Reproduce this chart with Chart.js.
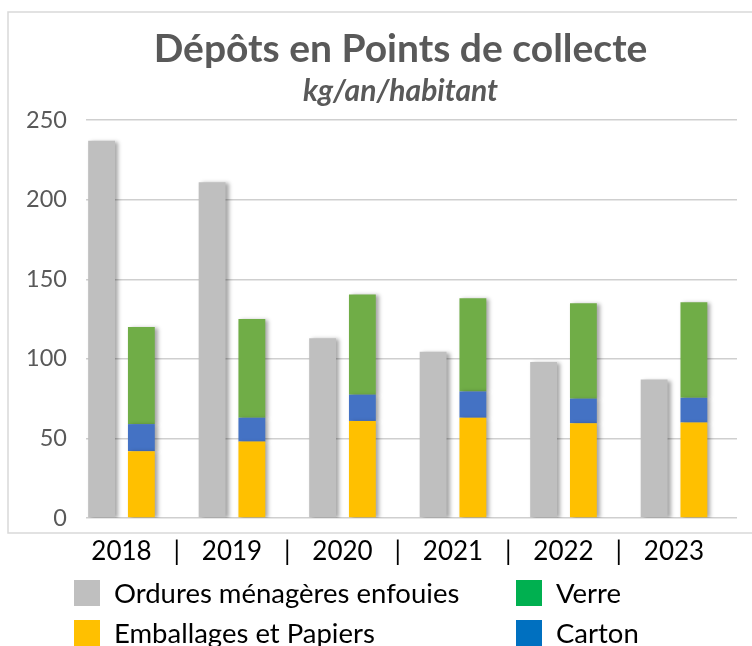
<!DOCTYPE html>
<html>
<head>
<meta charset="utf-8">
<script src="https://cdn.jsdelivr.net/npm/chart.js@4/dist/chart.umd.min.js"></script>
<style>
  html, body { margin: 0; padding: 0; background: #ffffff; }
  #wrap { position: relative; width: 752px; height: 646px; overflow: hidden; }
  #c { position: absolute; left: 0; top: 0; }
  #legend {
    position: absolute; left: 74px; top: 580px;
    display: grid; grid-template-columns: 442px auto; grid-auto-rows: 39.5px;
    font-family: Lato, "Open Sans", sans-serif; font-size: 27.5px; color: #000;
  }
  .item { display: flex; align-items: flex-start; height: 39.5px; }
  .box { width: 26px; height: 26px; flex: none; margin-right: 14px; }
  .lbl { line-height: 26px; white-space: nowrap; }
</style>
</head>
<body>
<div id="wrap">
  <canvas id="c" width="752" height="646"></canvas>
  <div id="legend"></div>
</div>
<script>
// ---- data ----
const years = ['2018', '2019', '2020', '2021', '2022', '2023'];
const ordures = [237, 211, 113, 104.5, 98, 87];
const emballages = [42, 48, 61, 63, 59.5, 60];
const carton = [17, 15, 16.5, 16.5, 15.5, 15.5];
const verre = [61, 62, 63, 58.5, 60, 60];
const yTicks = [0, 50, 100, 150, 200, 250];
const titleText = 'Dépôts en Points de collecte';
const subtitleText = 'kg/an/habitant';
const legendOrder = ['Ordures ménagères enfouies', 'Verre', 'Emballages et Papiers', 'Carton'];

const toPoints = arr => arr.map((v, i) => ({ x: i, y: v }));

const FONT = 'Lato, "Open Sans", sans-serif';

const frame = {
  id: 'frame',
  beforeDraw(chart) {
    const ctx = chart.ctx;
    ctx.save();
    ctx.strokeStyle = '#d9d9d9';
    ctx.lineWidth = 1.5;
    ctx.strokeRect(8, 12, 760, 521);
    ctx.restore();
  }
};

// centre the title block the way the reference does (slightly right of the canvas centre)
const titleShift = {
  id: 'titleShift',
  afterLayout(chart) {
    chart.boxes.forEach(b => {
      if (b.position === 'top') { b.left = 64; }
    });
  }
};

const shadow = {
  id: 'shadow',
  beforeDatasetsDraw(chart) {
    const ctx = chart.ctx;
    ctx.save();
    ctx.shadowColor = 'rgba(0,0,0,0.35)';
    ctx.shadowBlur = 4;
    ctx.shadowOffsetX = 3;
    ctx.shadowOffsetY = 1;
  },
  afterDatasetsDraw(chart) { chart.ctx.restore(); }
};

const separators = {
  id: 'separators',
  afterDraw(chart) {
    const sx = chart.scales.x;
    const ctx = chart.ctx;
    ctx.save();
    ctx.fillStyle = '#000';
    ctx.font = '26px ' + FONT;
    ctx.textAlign = 'center';
    ctx.textBaseline = 'middle';
    const y = chart.chartArea.bottom + 34;
    for (let i = 0; i < years.length - 1; i++) {
      ctx.fillText('|', sx.getPixelForValue(i + 0.5), y);
    }
    ctx.restore();
  }
};

const chart = new Chart(document.getElementById('c'), {
  type: 'bar',
  data: {
    datasets: [
      { label: 'Ordures ménagères enfouies', data: toPoints(ordures), stack: 'om',
        backgroundColor: '#bfbfbf', legendColor: '#bfbfbf' },
      { label: 'Emballages et Papiers', data: toPoints(emballages), stack: 'tri',
        backgroundColor: '#ffc000', legendColor: '#ffc000' },
      { label: 'Carton', data: toPoints(carton), stack: 'tri',
        backgroundColor: '#4472c4', legendColor: '#0070c0' },
      { label: 'Verre', data: toPoints(verre), stack: 'tri',
        backgroundColor: '#70ad47', legendColor: '#00b050' }
    ]
  },
  options: {
    responsive: false,
    devicePixelRatio: 1,
    animation: false,
    categoryPercentage: 0.72,
    barPercentage: 0.675,
    layout: { padding: { top: 0, left: 0, right: 15, bottom: 79 } },
    plugins: {
      legend: { display: false },
      tooltip: { enabled: false },
      title: {
        display: true, text: titleText, color: '#595959',
        font: { family: FONT, size: 39, weight: 'bold', lineHeight: 1.2 },
        padding: { top: 25.6, bottom: 0 }
      },
      subtitle: {
        display: true, text: subtitleText, color: '#595959',
        font: { family: FONT, size: 30, weight: 'bold', style: 'italic', lineHeight: 1.2 },
        padding: { top: 0.6, bottom: 11.1 }
      }
    },
    scales: {
      x: {
        type: 'linear',
        offset: false,
        min: -0.321, max: 5.57,
        grid: { display: false, drawTicks: false },
        border: { display: false },
        afterBuildTicks: axis => { axis.ticks = years.map((_, i) => ({ value: i })); },
        afterFit: s => { s.height = 49; },
        ticks: {
          autoSkip: false, maxRotation: 0, padding: 18,
          color: '#000', font: { family: FONT, size: 26 },
          callback: v => years[v]
        }
      },
      y: {
        stacked: true,
        min: 0, max: 250,
        afterBuildTicks: axis => { axis.ticks = yTicks.map(v => ({ value: v })); },
        afterFit: s => { s.width = 86; },
        grid: { color: '#cfcfcf', lineWidth: 1.5, drawTicks: false },
        border: { display: false },
        ticks: { padding: 19, color: '#595959', font: { family: FONT, size: 23.5 } }
      }
    }
  },
  plugins: [frame, titleShift, shadow, separators]
});

// HTML legend built from the chart's datasets
const legend = document.getElementById('legend');
legendOrder.forEach(name => {
  const ds = chart.data.datasets.find(d => d.label === name);
  const item = document.createElement('div');
  item.className = 'item';
  const box = document.createElement('span');
  box.className = 'box';
  box.style.background = ds.legendColor;
  const lbl = document.createElement('span');
  lbl.className = 'lbl';
  lbl.textContent = ds.label;
  item.appendChild(box);
  item.appendChild(lbl);
  legend.appendChild(item);
});
</script>
</body>
</html>
